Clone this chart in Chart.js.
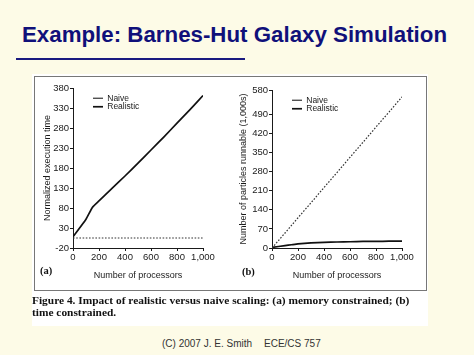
<!DOCTYPE html>
<html lang="en">
<head>
  <meta charset="UTF-8">
  <title>Barnes-Hut Galaxy Simulation</title>
  <script src="https://cdn.jsdelivr.net/npm/chart.js"></script>
  <style>
    html, body {
      margin: 0;
      padding: 0;
      width: 474px;
      height: 355px;
      overflow: hidden;
      background: #fdfbe7;
      font-family: "Liberation Sans", Arial, sans-serif;
    }
    .abs { position: absolute; }
    #title {
      left: 22px; top: 22px;
      font-size: 22.3px; font-weight: bold;
      color: #10107a;
      white-space: nowrap;
    }
    #rule { left: 16px; top: 58px; width: 229px; height: 2px; background: #1a1a80; }
    #paper { left: 32px; top: 74px; width: 396px; height: 252px; background: #fff; }
    #frame { left: 34px; top: 76px; width: 391px; height: 213px; border: 1px solid #777; }
    .tag { font-family: "Liberation Serif", "Times New Roman", serif; font-weight: bold; font-size: 10.5px; color: #111; }
    #caption {
      left: 32px; top: 294px;
      font-family: "Liberation Serif", "Times New Roman", serif;
      font-weight: bold; font-size: 11.4px; line-height: 12px; color: #111;
      white-space: nowrap;
    }
    .foot { top: 338px; font-size: 10px; color: #333; white-space: nowrap; }
    canvas { position: absolute; }
  </style>
</head>
<body>
  <div id="title" class="abs">Example: Barnes-Hut Galaxy Simulation</div>
  <div id="rule" class="abs"></div>
  <div id="paper" class="abs"></div>
  <div id="frame" class="abs"></div>

  <canvas id="chartA" width="182" height="205" style="left:36px; top:80px; width:182px; height:205px;"></canvas>
  <canvas id="chartB" width="182" height="205" style="left:236px; top:80px; width:182px; height:205px;"></canvas>

  <div class="abs tag" style="left:40px; top:265px;">(a)</div>
  <div class="abs tag" style="left:242px; top:266px;">(b)</div>

  <div id="caption" class="abs">Figure 4. Impact of realistic versus naive scaling: (a) memory constrained; (b)<br>time constrained.</div>

  <div class="abs foot" style="left:162px;">(C) 2007 J. E. Smith</div>
  <div class="abs foot" style="left:264px;">ECE/CS 757</div>

  <script>
    // values
    const processors = [0, 100, 150, 200, 300, 400, 500, 600, 700, 800, 900, 1000];

    // (a) memory constrained
    const naiveA     = [5, 5, 5, 5, 5, 5, 5, 5, 5, 5, 5, 5];
    const realisticA = [8, 52, 82, 98, 129, 160, 192, 225, 258, 292, 326, 361];
    const yTicksA    = [-20, 30, 80, 130, 180, 230, 280, 330, 380];

    // (b) time constrained
    const naiveB     = [0, 55, 83, 111, 166, 222, 277, 333, 388, 444, 499, 555];
    const realisticB = [2, 9, 12, 15, 19, 21, 22, 23, 24, 24, 25, 25];
    const yTicksB    = [0, 70, 140, 210, 280, 350, 420, 490, 580];

    const xTicks = [0, 200, 400, 600, 800, 1000];

    const ink = '#1a1a1a';
    const family = '"Liberation Sans", Arial, sans-serif';
    const tickFont = { family: family, size: 9.5 };
    const titleFont = { family: family, size: 9 };
    const legendFont = { family: family, size: 8.5 };

    const pts = arr => arr.map((v, i) => ({ x: processors[i], y: v }));

    // push the legend a bit into the plot, like the scanned figure
    const legendNudge = {
      id: 'legendNudge',
      beforeDraw(chart, args, opts) {
        if (chart.legend) {
          chart.legend.left = chart.chartArea.left + opts.dx;
          chart.legend.top = chart.chartArea.top + opts.dy;
        }
      }
    };

    function makeChart(id, naive, realistic, yTicks, yMin, yMax, yTitle, dims) {
      const ctx = document.getElementById(id).getContext('2d');
      return new Chart(ctx, {
        type: 'line',
        data: {
          datasets: [{
            label: 'Naive',
            data: pts(naive),
            borderColor: '#333',
            borderWidth: 1.2,
            borderDash: [1.6, 1.6],
            pointRadius: 0,
            tension: 0
          }, {
            label: 'Realistic',
            data: pts(realistic),
            borderColor: '#111',
            borderWidth: 1.7,
            pointRadius: 0,
            tension: 0.15
          }]
        },
        options: {
          responsive: false,
          animation: false,
          layout: { padding: { top: dims.top, right: dims.right, left: 0, bottom: 0 } },
          plugins: {
            tooltip: { enabled: false },
            legend: {
              position: 'chartArea',
              align: 'start',
              labels: {
                color: ink,
                font: legendFont,
                boxWidth: 10,
                boxHeight: 6,
                padding: 0,
                usePointStyle: true,
                pointStyle: 'line',
                pointStyleWidth: 10
              }
            },
            legendNudge: { dx: 20, dy: 6 }
          },
          scales: {
            x: {
              type: 'linear',
              min: 0,
              max: 1000,
              afterBuildTicks: s => { s.ticks = xTicks.map(v => ({ value: v })); },
              afterFit: s => { s.height = dims.xh; },
              ticks: { color: ink, font: tickFont, padding: 1, maxRotation: 0, autoSkip: false },
              grid: { drawOnChartArea: false, drawTicks: true, tickLength: 3, color: ink },
              border: { color: ink, width: 1 },
              title: { display: true, text: 'Number of processors', color: ink, font: titleFont, padding: { top: 2, bottom: 4 } }
            },
            y: {
              min: yMin,
              max: yMax,
              afterBuildTicks: s => { s.ticks = yTicks.map(v => ({ value: v })); },
              afterFit: s => { s.width = dims.yw; },
              ticks: { color: ink, font: tickFont, padding: 1, autoSkip: false },
              grid: { drawOnChartArea: false, drawTicks: true, tickLength: 3, color: ink },
              border: { color: ink, width: 1 },
              title: { display: true, text: yTitle, color: ink, font: titleFont, padding: dims.tp }
            }
          }
        },
        plugins: [legendNudge]
      });
    }

    makeChart('chartA', naiveA, realisticA, yTicksA, -20, 380, 'Normalized execution time',
      { top: 8, right: 15, xh: 37, yw: 37, tp: 6 });
    makeChart('chartB', naiveB, realisticB, yTicksB, 0, 580, 'Number of particles runnable (1,000s)',
      { top: 10, right: 16, xh: 37, yw: 36, tp: 2 });
  </script>
</body>
</html>
